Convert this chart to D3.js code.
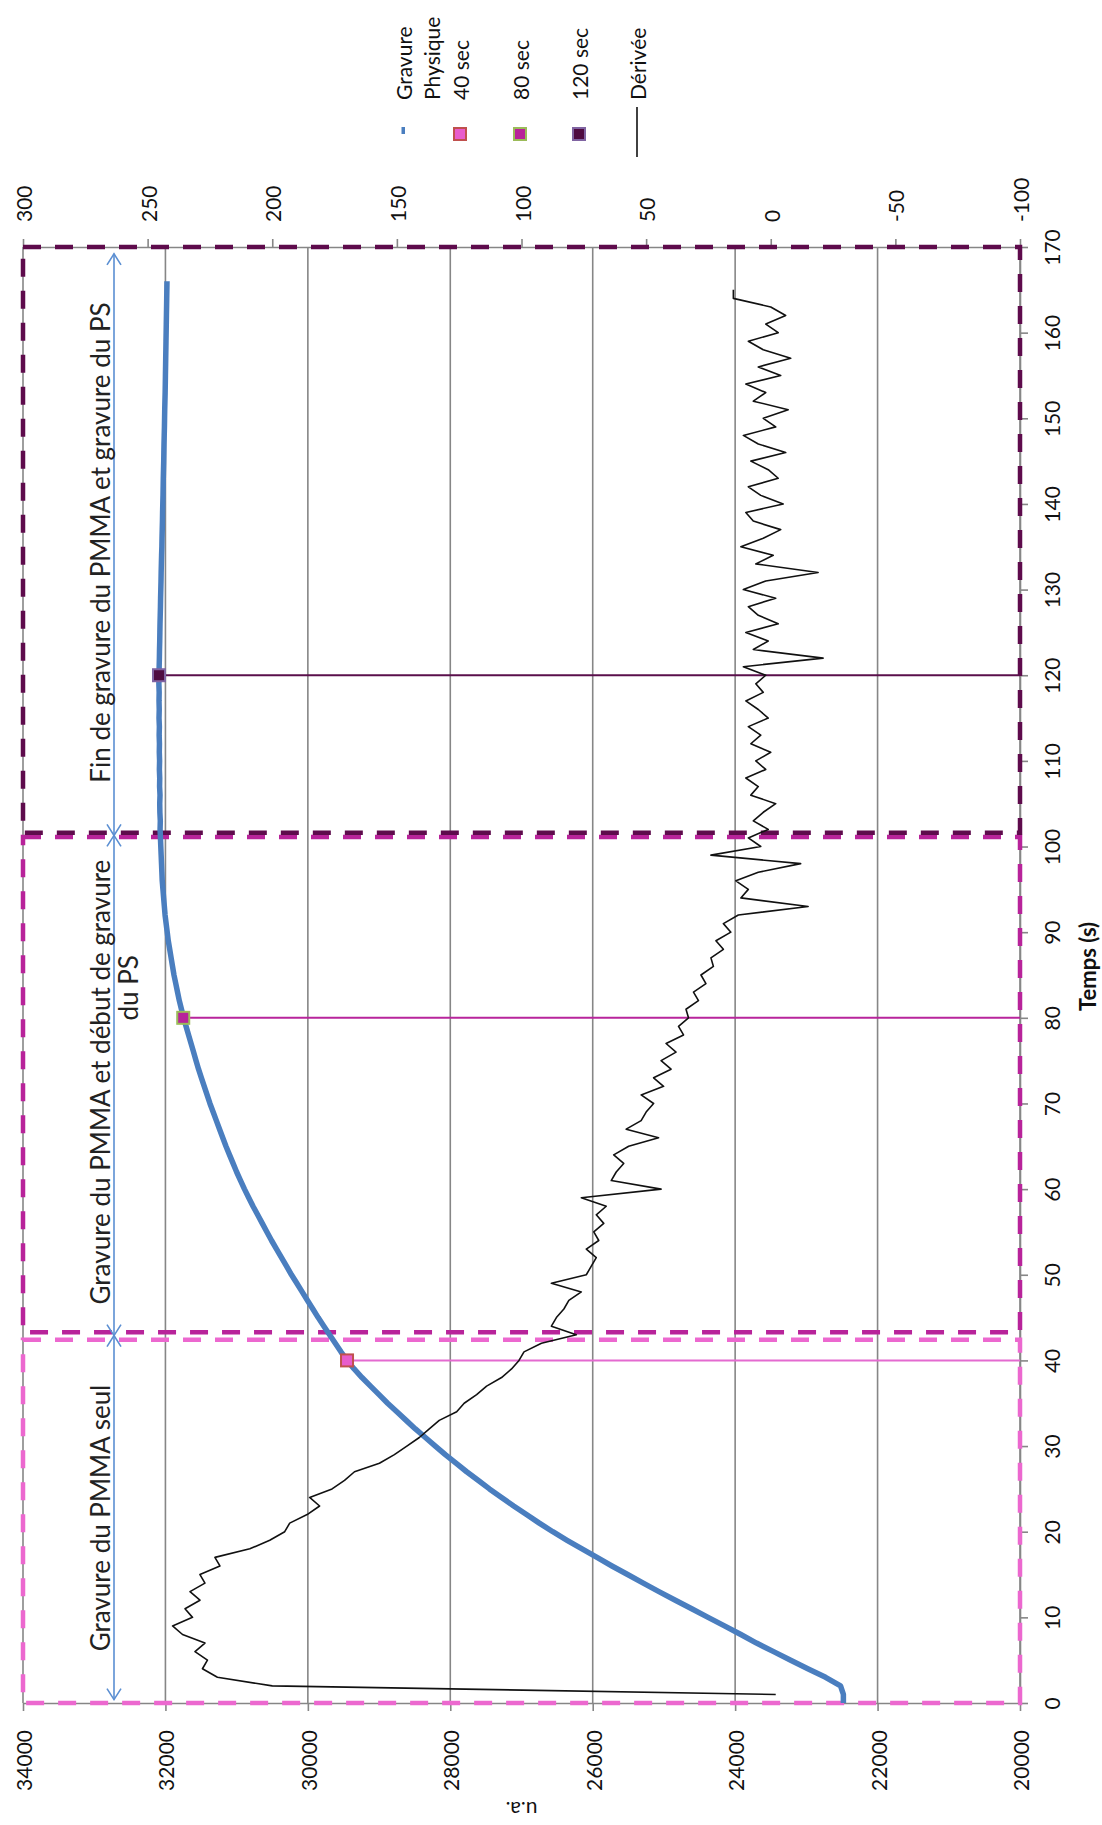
<!DOCTYPE html>
<html>
<head>
<meta charset="utf-8">
<script src="https://cdnjs.cloudflare.com/ajax/libs/d3/7.8.5/d3.min.js"></script>
<style>
  html, body { margin: 0; padding: 0; background: #fff; }
  svg { display: block; font-family: Lato, "Open Sans", sans-serif; }
</style>
</head>
<body>
<svg id="chart" width="1102" height="1825"></svg>
<script>
// ---------- DATA ----------
const timeTicks = [0,10,20,30,40,50,60,70,80,90,100,110,120,130,140,150,160,170];
const uaTicks = [34000,32000,30000,28000,26000,24000,22000,20000];
const derivTicks = [300,250,200,150,100,50,0,-50,-100];

// Gravure Physique (u.a.), one value per second from t = 0 s
const gravureStart = 0;
const gravureValues = [
22480,22480,22520,22730,22980,23220,23460,23700,23920,24150,
24380,24610,24840,25070,25290,25510,25730,25940,26150,26360,
26560,26750,26930,27110,27280,27450,27610,27770,27920,28070,
28210,28350,28490,28620,28750,28880,29000,29120,29240,29350,
29450,29535,29615,29695,29775,29855,29930,30005,30080,30155,
30230,30300,30370,30440,30510,30575,30640,30705,30770,30830,
30890,30945,31000,31050,31100,31150,31195,31240,31285,31330,
31375,31415,31455,31495,31535,31570,31605,31640,31675,31710,
31745,31775,31805,31830,31855,31880,31900,31920,31940,31960,
31975,31990,32005,32015,32025,32035,32045,32050,32055,32060,
32065,32070,32075,32072,32078,32080,32076,32082,32080,32085,
32082,32086,32084,32088,32085,32090,32087,32090,32088,32092,
32090,32088,32085,32083,32080,32078,32076,32073,32070,32068,
32065,32062,32060,32057,32054,32050,32048,32045,32042,32040,
32037,32034,32032,32030,32027,32024,32022,32020,32017,32014,
32012,32010,32007,32004,32002,32000,31998,31996,31994,31992,
31990,31988,31986,31984,31982,31980,31978
];

// Dérivée (right axis), one value per second from t = 1 s
const derivStart = 1;
const derivValues = [
-2,200,222,228,226,231,227,236,240,232,
235,229,233,227,229,221,223,209,201,195,
193,186,181,185,176,171,167,157,151,146,
141,137,133,126,123,118,114,108,104,101,
99,92,78,88,86,83,81,76,88,74,
72,70,74,69,71,67,70,66,76,44,
64,62,59,63,57,45,58,52,50,47,
52,43,47,40,44,38,42,35,37,33,
34,29,31,26,28,23,24,19,22,16,
19,13,-15,12,9,14,5,-12,24,4,
9,1,7,3,-2,8,5,10,2,6,
0,8,4,9,1,5,10,3,6,2,
11,-21,7,1,10,-3,5,9,-2,11,
2,-19,6,-1,12,3,-4,7,10,-5,
4,9,-3,1,8,-6,5,11,-2,3,
-7,7,2,10,-4,5,-8,3,9,-3,
2,-6,0,15,15
];

// event markers
const eventNames = ["40 sec","80 sec","120 sec"];
const eventTimes = [40,80,120];
const eventValues = [29450,31750,32090];
const eventFill = ["#e85ccc","#b8229a","#4e0b40"];
const eventStroke = ["#c0504d","#9bbb59","#8064a2"];
const eventLine = ["#e46ad0","#b8259c","#5a0f4b"];

// phases (dashed boxes) and annotations
const phaseStart = [0, 43.3, 101.6];
const phaseEnd = [42.4, 101.1, 170];
const phaseColor = ["#ec68cf","#b8239a","#5e0b4c"];
const arrowStart = [0.4, 42.9, 101.3];
const arrowEnd = [42.9, 101.3, 169.2];
const phaseLabels = [
  ["Gravure du PMMA seul"],
  ["Gravure du PMMA et début de gravure","du PS"],
  ["Fin de gravure du PMMA et gravure du PS"]
];
const phaseLabelTimes = [
  [21.6],
  [72.5, 83.5],
  [135.5]
];

// ---------- LAYOUT ----------
const svg = d3.select("#chart");
const P = {left: 23, right: 1020, top: 247, bottom: 1703};
const tS = d3.scaleLinear().domain([0,170]).range([P.bottom, P.top]);
const uaS = d3.scaleLinear().domain([34000,20000]).range([P.left, P.right]);
const dS = d3.scaleLinear().domain([300,-100]).range([P.left, P.right]);
const AX = "#868686";
const fmt = d => String(d);

const gravure = gravureValues.map((v,i)=>({t: gravureStart+i, v}));
const deriv = derivValues.map((v,i)=>({t: derivStart+i, v}));

// gridlines
svg.append("g").selectAll("line").data(uaTicks).join("line")
  .attr("x1", d=>uaS(d)).attr("x2", d=>uaS(d))
  .attr("y1", P.top).attr("y2", P.bottom)
  .attr("stroke", AX).attr("stroke-width", 1.6);

// axes
function styleAxis(g){
  g.select(".domain").attr("stroke", AX).attr("stroke-width", 1.6);
  g.selectAll(".tick line").attr("stroke", AX).attr("stroke-width", 1.6);
  g.selectAll("text").attr("fill","#111").style("font-size","21px").style("font-family","Lato, sans-serif");
}
const gT = svg.append("g").attr("transform",`translate(${P.right},0)`)
  .call(d3.axisRight(tS).tickValues(timeTicks).tickSize(8).tickSizeOuter(0).tickFormat(fmt));
styleAxis(gT);
gT.selectAll("text").attr("x",0).attr("dy",null)
  .attr("transform","translate(31,0) rotate(-90)")
  .attr("text-anchor","middle").attr("dominant-baseline","central");

const gU = svg.append("g").attr("transform",`translate(0,${P.bottom})`)
  .call(d3.axisBottom(uaS).tickValues(uaTicks).tickSize(8).tickSizeOuter(0).tickFormat(fmt));
styleAxis(gU);
gU.selectAll("text").attr("y",0).attr("dy",null)
  .attr("transform","translate(0,27) rotate(-90)")
  .attr("text-anchor","end").attr("dominant-baseline","central");

const gD = svg.append("g").attr("transform",`translate(0,${P.top})`)
  .call(d3.axisTop(dS).tickValues(derivTicks).tickSize(8).tickSizeOuter(0).tickFormat(fmt));
styleAxis(gD);
gD.selectAll("text").attr("y",0).attr("dy",null)
  .attr("transform","translate(0,-25) rotate(-90)")
  .attr("text-anchor","start").attr("dominant-baseline","central");

// axis titles
svg.append("text").attr("transform",`translate(${(P.left+P.right)/2},1810) rotate(180)`)
  .attr("text-anchor","middle").attr("dominant-baseline","central")
  .style("font-size","21px").attr("fill","#111").text("u.a.");
svg.append("text").attr("transform",`translate(1087,${tS(86)}) rotate(-90)`)
  .attr("text-anchor","middle").attr("dominant-baseline","central")
  .style("font-size","22px").style("font-weight","bold").attr("fill","#111").text("Temps (s)");

// dashed phase boxes
svg.append("g").selectAll("rect").data(phaseStart).join("rect")
  .attr("x", P.left).attr("width", P.right-P.left)
  .attr("y", (d,i)=>tS(phaseEnd[i])).attr("height",(d,i)=>tS(phaseStart[i])-tS(phaseEnd[i]))
  .attr("fill","none").attr("stroke",(d,i)=>phaseColor[i])
  .attr("stroke-width",4.5).attr("stroke-dasharray","18,14");

// drop lines
svg.append("g").selectAll("line").data(eventTimes).join("line")
  .attr("x1",(d,i)=>uaS(eventValues[i])).attr("x2",P.right)
  .attr("y1",d=>tS(d)).attr("y2",d=>tS(d))
  .attr("stroke",(d,i)=>eventLine[i]).attr("stroke-width",2);

// gravure curve
svg.append("path").datum(gravure)
  .attr("d", d3.line().x(d=>uaS(d.v)).y(d=>tS(d.t)))
  .attr("fill","none").attr("stroke","#4a7ebf").attr("stroke-width",5.5).attr("stroke-linejoin","round");

// derivative curve
svg.append("path").datum(deriv)
  .attr("d", d3.line().x(d=>dS(d.v)).y(d=>tS(d.t)))
  .attr("fill","none").attr("stroke","#111").attr("stroke-width",1.6).attr("stroke-linejoin","round");

// event markers
svg.append("g").selectAll("rect").data(eventTimes).join("rect")
  .attr("x",(d,i)=>uaS(eventValues[i])-6).attr("y",d=>tS(d)-6)
  .attr("width",12).attr("height",12)
  .attr("fill",(d,i)=>eventFill[i]).attr("stroke",(d,i)=>eventStroke[i]).attr("stroke-width",2);

// arrows
const defs = svg.append("defs");
defs.append("marker").attr("id","chev").attr("viewBox","-12 -8 14 16")
  .attr("refX",0).attr("refY",0).attr("markerWidth",14).attr("markerHeight",16)
  .attr("markerUnits","userSpaceOnUse").attr("orient","auto-start-reverse")
  .append("path").attr("d","M-11,-7 L0,0 L-11,7").attr("fill","none")
  .attr("stroke","#5b8fd2").attr("stroke-width",1.6);
svg.append("g").selectAll("line").data(arrowStart).join("line")
  .attr("x1",114).attr("x2",114)
  .attr("y1",d=>tS(d)).attr("y2",(d,i)=>tS(arrowEnd[i]))
  .attr("stroke","#5b8fd2").attr("stroke-width",1.6)
  .attr("marker-start","url(#chev)").attr("marker-end","url(#chev)");

// phase labels
phaseLabels.forEach((lines,i)=>{
  lines.forEach((s,j)=>{
    svg.append("text").attr("transform",`translate(${100+j*28},${tS(phaseLabelTimes[i][j])}) rotate(-90)`)
      .attr("text-anchor","middle").attr("dominant-baseline","central")
      .style("font-size","26px").attr("fill","#222").text(s);
  });
});

// legend
const legX = [417,460,520,579,637];
const lg = svg.append("g");
lg.append("text").attr("transform","translate(403,100) rotate(-90)").attr("dominant-baseline","central")
  .style("font-size","21px").attr("fill","#111").text("Gravure");
lg.append("text").attr("transform","translate(431,100) rotate(-90)").attr("dominant-baseline","central")
  .style("font-size","21px").attr("fill","#111").text("Physique");
lg.append("rect").attr("x",401.5).attr("y",127).attr("width",3.5).attr("height",7).attr("fill","#4a7ebf");
eventNames.forEach((n,i)=>{
  const x = legX[i+1];
  lg.append("text").attr("transform",`translate(${x},100) rotate(-90)`).attr("dominant-baseline","central")
    .style("font-size","21px").attr("fill","#111").text(n);
  lg.append("rect").attr("x",x-6).attr("y",128).attr("width",12).attr("height",12)
    .attr("fill",eventFill[i]).attr("stroke",eventStroke[i]).attr("stroke-width",2);
});
lg.append("text").attr("transform",`translate(${legX[4]},100) rotate(-90)`).attr("dominant-baseline","central")
  .style("font-size","21px").attr("fill","#111").text("Dérivée");
lg.append("line").attr("x1",legX[4]).attr("x2",legX[4]).attr("y1",107).attr("y2",157)
  .attr("stroke","#111").attr("stroke-width",1.6);
</script>
</body>
</html>
